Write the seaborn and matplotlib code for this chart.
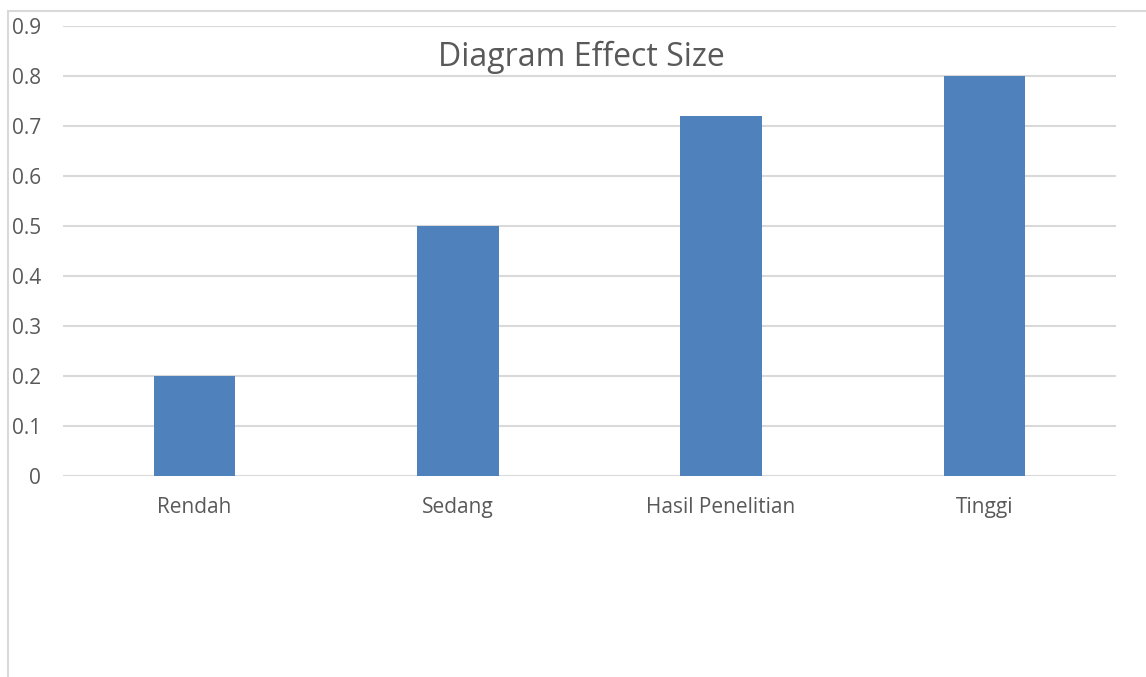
import matplotlib
matplotlib.use("Agg")
import matplotlib.pyplot as plt
import seaborn as sns
import pandas as pd
from matplotlib.lines import Line2D

categories = ["Rendah", "Sedang", "Hasil Penelitian", "Tinggi"]
values = [0.2, 0.5, 0.72, 0.8]
yticks = [0, 0.1, 0.2, 0.3, 0.4, 0.5, 0.6, 0.7, 0.8, 0.9]
ytick_labels = ["0", "0.1", "0.2", "0.3", "0.4", "0.5", "0.6", "0.7", "0.8", "0.9"]

sns.set_style("white")
plt.rcParams['font.family'] = ['Open Sans', 'DejaVu Sans']

df = pd.DataFrame({"cat": categories, "val": values})

fig = plt.figure(figsize=(11.46, 6.77), dpi=100)
ax = fig.add_axes([63/1146, 1-476/677, (1116-63)/1146, 450/677])
sns.barplot(data=df, x="cat", y="val", color="#4F81BD", saturation=1, width=0.31,
            linewidth=0, edgecolor="none", ax=ax, zorder=3)

ax.set_ylim(0, 0.9)
ax.set_xlim(-0.5, 3.5)
ax.set_yticks(yticks)
ax.set_yticklabels(ytick_labels)
ax.set_xlabel("")
ax.set_ylabel("")
for s in ax.spines.values():
    s.set_visible(False)
ax.yaxis.grid(True, color="#D9D9D9", linewidth=1.5, zorder=0)
ax.set_axisbelow(True)
ax.tick_params(axis="y", length=0, pad=16, labelsize=15, labelcolor="#595959")
ax.tick_params(axis="x", length=0, pad=15, labelsize=15, labelcolor="#595959")

fig.text(581/1146, 1-57/677, "Diagram Effect Size", ha="center", va="center",
         fontsize=23, color="#595959")

# chart frame lines
fig.add_artist(Line2D([7.5/1146, 7.5/1146], [0, 1-11/677], color="#D9D9D9", linewidth=1.5, transform=fig.transFigure))
fig.add_artist(Line2D([7.5/1146, 1], [1-11/677, 1-11/677], color="#D9D9D9", linewidth=1.5, transform=fig.transFigure))

fig.savefig("out.png", dpi=100)
